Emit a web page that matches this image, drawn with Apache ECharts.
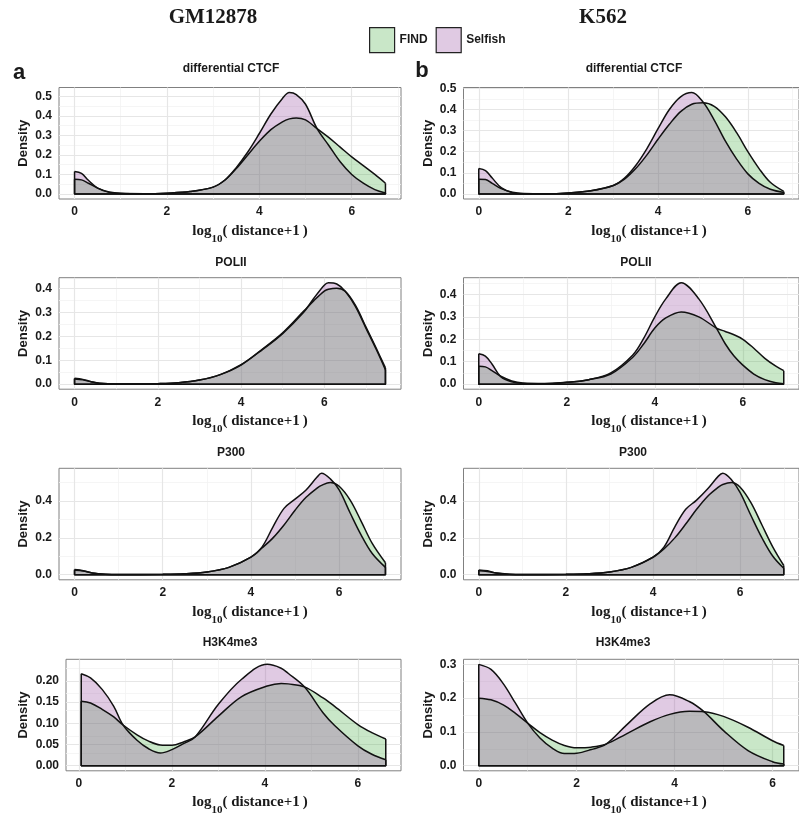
<!DOCTYPE html>
<html>
<head>
<meta charset="utf-8">
<title>Distance density: FIND vs Selfish</title>
<script src="https://cdn.jsdelivr.net/npm/echarts@6/dist/echarts.min.js"></script>
<style>
  html, body { margin: 0; padding: 0; background: #ffffff; }
  #chart { width: 799px; height: 813px; }
</style>
</head>
<body>
<div id="chart"></div>
<script>
// ---------------- data: density of log10(distance+1) ----------------
const methods = ['FIND', 'Selfish'];
const cellLines = ['GM12878', 'K562'];
const marks = ['differential CTCF', 'POLII', 'P300', 'H3K4me3'];

// GM12878 / differential CTCF
const ctcfGmX       = [0, 0.15, 0.3, 0.5, 0.75, 1, 1.5, 2, 2.5, 3, 3.25, 3.5, 3.75, 4, 4.25, 4.5, 4.65, 4.8, 5, 5.25, 5.5, 5.75, 6, 6.25, 6.5, 6.73];
const ctcfGmFind    = [0.075, 0.072, 0.055, 0.03, 0.01, 0.003, 0.001, 0.004, 0.012, 0.035, 0.07, 0.13, 0.2, 0.27, 0.33, 0.37, 0.385, 0.39, 0.38, 0.335, 0.29, 0.24, 0.19, 0.145, 0.1, 0.055];
const ctcfGmSelfish = [0.115, 0.105, 0.07, 0.03, 0.008, 0.002, 0.001, 0.004, 0.012, 0.035, 0.07, 0.135, 0.215, 0.31, 0.41, 0.49, 0.52, 0.51, 0.46, 0.335, 0.25, 0.165, 0.1, 0.055, 0.022, 0.005];

// K562 / differential CTCF
const ctcfKX        = [0, 0.15, 0.3, 0.5, 0.75, 1, 1.5, 2, 2.5, 3, 3.25, 3.5, 3.75, 4, 4.25, 4.5, 4.75, 5, 5.25, 5.5, 5.75, 6, 6.25, 6.5, 6.8];
const ctcfKFind     = [0.07, 0.068, 0.05, 0.025, 0.008, 0.002, 0.001, 0.005, 0.015, 0.04, 0.07, 0.12, 0.185, 0.26, 0.33, 0.39, 0.425, 0.432, 0.415, 0.365, 0.29, 0.2, 0.12, 0.055, 0.012];
const ctcfKSelfish  = [0.12, 0.11, 0.075, 0.03, 0.006, 0.001, 0.001, 0.005, 0.015, 0.04, 0.075, 0.135, 0.215, 0.31, 0.4, 0.46, 0.48, 0.435, 0.35, 0.25, 0.165, 0.095, 0.05, 0.022, 0.007];

// GM12878 / POLII
const polGmX        = [0, 0.2, 0.4, 0.6, 1, 1.5, 2, 2.5, 3, 3.5, 4, 4.5, 5, 5.5, 5.75, 6, 6.1, 6.3, 6.5, 6.75, 7, 7.25, 7.47];
const polGmFind     = [0.022, 0.018, 0.01, 0.004, 0.001, 0.001, 0.002, 0.006, 0.017, 0.04, 0.08, 0.145, 0.215, 0.305, 0.35, 0.39, 0.398, 0.402, 0.39, 0.33, 0.24, 0.15, 0.068];
const polGmSelfish  = [0.025, 0.02, 0.01, 0.004, 0.001, 0.001, 0.002, 0.006, 0.017, 0.04, 0.082, 0.143, 0.212, 0.3, 0.36, 0.415, 0.425, 0.42, 0.39, 0.325, 0.235, 0.145, 0.06];

// K562 / POLII
const polKX         = [0, 0.15, 0.3, 0.5, 0.75, 1, 1.5, 2, 2.5, 3, 3.5, 3.75, 4, 4.25, 4.6, 5, 5.4, 5.6, 5.8, 6, 6.25, 6.5, 6.75, 6.93];
const polKFind      = [0.08, 0.077, 0.06, 0.035, 0.014, 0.005, 0.003, 0.008, 0.02, 0.045, 0.12, 0.18, 0.25, 0.295, 0.322, 0.3, 0.25, 0.235, 0.22, 0.2, 0.16, 0.115, 0.08, 0.06];
const polKSelfish   = [0.135, 0.125, 0.09, 0.033, 0.01, 0.003, 0.001, 0.008, 0.02, 0.05, 0.13, 0.205, 0.3, 0.38, 0.452, 0.38, 0.25, 0.18, 0.125, 0.085, 0.045, 0.02, 0.006, 0.002];

// GM12878 / P300
const p300GmX       = [0, 0.2, 0.4, 0.7, 1, 2, 2.5, 3, 3.5, 4, 4.25, 4.5, 4.75, 5, 5.25, 5.5, 5.6, 5.8, 6, 6.25, 6.5, 6.75, 7.05];
const p300GmFind    = [0.024, 0.02, 0.01, 0.003, 0.001, 0.002, 0.005, 0.015, 0.04, 0.095, 0.145, 0.2, 0.27, 0.35, 0.42, 0.47, 0.485, 0.5, 0.48, 0.405, 0.29, 0.17, 0.065];
const p300GmSelfish = [0.028, 0.022, 0.01, 0.003, 0.001, 0.002, 0.005, 0.015, 0.04, 0.095, 0.15, 0.26, 0.36, 0.41, 0.46, 0.53, 0.55, 0.52, 0.46, 0.335, 0.215, 0.115, 0.04];

// K562 / P300
const p300KX        = [0, 0.2, 0.4, 0.7, 1, 2, 2.5, 3, 3.5, 4, 4.25, 4.5, 4.75, 5, 5.25, 5.5, 5.6, 5.8, 6, 6.25, 6.5, 6.75, 7];
const p300KFind     = [0.022, 0.018, 0.009, 0.003, 0.001, 0.002, 0.005, 0.015, 0.04, 0.095, 0.14, 0.2, 0.275, 0.355, 0.425, 0.475, 0.49, 0.5, 0.475, 0.39, 0.27, 0.15, 0.05];
const p300KSelfish  = [0.026, 0.021, 0.01, 0.003, 0.001, 0.002, 0.005, 0.015, 0.04, 0.095, 0.15, 0.26, 0.355, 0.405, 0.465, 0.535, 0.55, 0.515, 0.445, 0.32, 0.2, 0.1, 0.035];

// GM12878 / H3K4me3
const h3GmX         = [0.05, 0.25, 0.5, 0.75, 0.95, 1.25, 1.5, 1.75, 2, 2.25, 2.5, 3, 3.5, 4.05, 4.35, 4.5, 4.85, 5.25, 5.5, 6, 6.3, 6.6];
const h3GmFind      = [0.152, 0.148, 0.133, 0.115, 0.096, 0.073, 0.058, 0.049, 0.048, 0.056, 0.068, 0.117, 0.163, 0.188, 0.194, 0.193, 0.186, 0.16, 0.14, 0.097, 0.078, 0.063];
const h3GmSelfish   = [0.217, 0.207, 0.18, 0.14, 0.096, 0.06, 0.04, 0.03, 0.038, 0.052, 0.068, 0.145, 0.204, 0.239, 0.23, 0.218, 0.186, 0.125, 0.095, 0.047, 0.027, 0.014];

// K562 / H3K4me3
const h3KX          = [0, 0.25, 0.5, 0.75, 1, 1.25, 1.5, 1.75, 2, 2.3, 2.6, 3, 3.5, 3.9, 4.3, 4.6, 5, 5.5, 6, 6.23];
const h3KFind       = [0.2, 0.195, 0.18, 0.155, 0.126, 0.098, 0.076, 0.06, 0.053, 0.055, 0.064, 0.093, 0.13, 0.152, 0.161, 0.16, 0.146, 0.114, 0.074, 0.06];
const h3KSelfish    = [0.3, 0.285, 0.243, 0.185, 0.126, 0.082, 0.052, 0.036, 0.037, 0.048, 0.064, 0.118, 0.183, 0.21, 0.19, 0.16, 0.104, 0.045, 0.012, 0.005];

// tick labels
const xTicks       = [0, 2, 4, 6];
const xMinorTicks  = [1, 3, 5, 7];
const yTicksCtcf   = [0, 0.1, 0.2, 0.3, 0.4, 0.5];
const yTicksPol    = [0, 0.1, 0.2, 0.3, 0.4];
const yTicksP300   = [0, 0.2, 0.4];
const yTicksH3Gm   = [0, 0.05, 0.1, 0.15, 0.2];
const yTicksH3K    = [0, 0.1, 0.2, 0.3];

// ---------------- panels (row-major: GM12878 left, K562 right) ----------------
const panels = [
  { title: marks[0], x: ctcfGmX, find: ctcfGmFind, selfish: ctcfGmSelfish, yTicks: yTicksCtcf, digits: 1 },
  { title: marks[0], x: ctcfKX,  find: ctcfKFind,  selfish: ctcfKSelfish,  yTicks: yTicksCtcf, digits: 1 },
  { title: marks[1], x: polGmX,  find: polGmFind,  selfish: polGmSelfish,  yTicks: yTicksPol,  digits: 1 },
  { title: marks[1], x: polKX,   find: polKFind,   selfish: polKSelfish,   yTicks: yTicksPol,  digits: 1 },
  { title: marks[2], x: p300GmX, find: p300GmFind, selfish: p300GmSelfish, yTicks: yTicksP300, digits: 1 },
  { title: marks[2], x: p300KX,  find: p300KFind,  selfish: p300KSelfish,  yTicks: yTicksP300, digits: 1 },
  { title: marks[3], x: h3GmX,   find: h3GmFind,   selfish: h3GmSelfish,   yTicks: yTicksH3Gm, digits: 2 },
  { title: marks[3], x: h3KX,    find: h3KFind,    selfish: h3KSelfish,    yTicks: yTicksH3K,  digits: 1 }
];

// ---------------- layout ----------------
const rowTop = [87.5, 277.7, 468.3, 659.3];
const rowStep = 190.5;
const panelH = 111.5;
const panelLeft = [59, 463.5, 59, 463.5, 59, 463.5, 66, 463.5];
const colRight = [401, 806];           // right-hand panels run off the page edge
const titleX = [231, 634, 231, 636, 231, 633, 230, 623];
const titleY = [69, 263, 453, 643];
const xTitleX = [250, 649];
const densityLabelX = [23, 428];

const SANS = '"Liberation Sans", Arial, Helvetica, sans-serif';
const SERIF = '"Liberation Serif", "Times New Roman", serif';
const TEXT = '#1a1a1a';
const FIND_FILL = 'rgba(77,175,74,0.3)';
const SELFISH_FILL = 'rgba(152,78,163,0.3)';
const OUTLINE = '#111111';
const OUTLINE_W = 1.5;

const MAIN_FONT = 'bold 15px ' + SERIF;
const SUB_FONT = 'bold 11px ' + SERIF;
const measureCtx = document.createElement('canvas').getContext('2d');
function textWidth(str, font) {
  measureCtx.font = font;
  return measureCtx.measureText(str).width;
}

const grids = [], xAxes = [], yAxes = [], series = [], graphics = [];

function expand(lo, hi) {
  const r = hi - lo;
  return [lo - 0.05 * r, hi + 0.05 * r];
}

// x-axis title: log with subscript 10
function axisTitle(cx, cy) {
  const parts = [
    { t: 'log', font: MAIN_FONT, dy: 0 },
    { t: '10', font: SUB_FONT, dy: 8 },
    { t: '( distance+1\u2009)', font: MAIN_FONT, dy: 0 }
  ];
  const widths = parts.map(p => textWidth(p.t, p.font));
  let x = cx - widths.reduce((a, b) => a + b, 0) / 2;
  parts.forEach((p, k) => {
    graphics.push({
      type: 'text', x: x, y: cy + p.dy,
      style: { text: p.t, font: p.font, fill: TEXT, align: 'left', verticalAlign: 'middle' }
    });
    x += widths[k];
  });
}

panels.forEach((p, i) => {
  const row = Math.floor(i / 2), col = i % 2;
  const left = panelLeft[i];
  grids.push({
    left: left, top: rowTop[row], width: colRight[col] - left, height: panelH,
    show: true, backgroundColor: '#ffffff', borderColor: '#808080', borderWidth: 1,
    containLabel: false
  });

  const x0 = p.x[0], xn = p.x[p.x.length - 1];
  const ymax = Math.max(Math.max(...p.find), Math.max(...p.selfish));
  const xr = expand(x0, xn);
  const yr = expand(0, ymax);

  const labelStyle = { fontSize: 12, fontWeight: 'bold', fontFamily: SANS, color: TEXT };
  xAxes.push({
    type: 'value', gridIndex: i, min: xr[0], max: xr[1],
    axisLine: { show: false },
    axisTick: { show: true, customValues: xTicks, length: 3, lineStyle: { color: '#333', width: 1 } },
    axisLabel: Object.assign({ customValues: xTicks, margin: 7, formatter: v => String(v) }, labelStyle),
    splitLine: { show: false }
  });
  yAxes.push({
    type: 'value', gridIndex: i, min: yr[0], max: yr[1],
    axisLine: { show: false },
    axisTick: { show: true, customValues: p.yTicks, length: 3, lineStyle: { color: '#333', width: 1 } },
    axisLabel: Object.assign({ customValues: p.yTicks, margin: 7, formatter: v => v.toFixed(p.digits) }, labelStyle),
    splitLine: { show: false }
  });

  // background grid: minor lines first, major lines over them
  const yStep = p.yTicks[1] - p.yTicks[0];
  const yMinor = [];
  for (let k = 0; k <= p.yTicks.length; k++) {
    const v = p.yTicks[0] + (k - 0.5) * yStep;
    if (v > yr[0] && v < yr[1]) yMinor.push(+v.toFixed(4));
  }
  const minorStyle = { color: '#f3f3f3', width: 0.8, type: 'solid' };
  const majorStyle = { color: '#e6e6e6', width: 1.2, type: 'solid' };
  const gridLines = []
    .concat(xMinorTicks.filter(v => v > xr[0] && v < xr[1]).map(v => ({ xAxis: v, lineStyle: minorStyle })))
    .concat(yMinor.map(v => ({ yAxis: v, lineStyle: minorStyle })))
    .concat(xTicks.filter(v => v > xr[0] && v < xr[1]).map(v => ({ xAxis: v, lineStyle: majorStyle })))
    .concat(p.yTicks.map(v => ({ yAxis: v, lineStyle: majorStyle })));
  series.push({
    type: 'line', xAxisIndex: i, yAxisIndex: i, z: 1, silent: true,
    data: [[x0, 0]], showSymbol: false, symbol: 'none',
    lineStyle: { width: 0, opacity: 0 },
    markLine: { z: 1, silent: true, symbol: ['none', 'none'], label: { show: false }, animation: false, data: gridLines }
  });

  // density curves
  const curves = [
    { name: methods[0], ys: p.find, fill: FIND_FILL },
    { name: methods[1], ys: p.selfish, fill: SELFISH_FILL }
  ];
  curves.forEach(c => {
    series.push({
      name: c.name, type: 'line', xAxisIndex: i, yAxisIndex: i, z: 10,
      data: p.x.map((xv, k) => [xv, c.ys[k]]),
      smooth: 0.35, symbol: 'none', showSymbol: false,
      itemStyle: { color: c.fill },
      lineStyle: { color: OUTLINE, width: OUTLINE_W },
      areaStyle: { color: c.fill, opacity: 1 },
      emphasis: { disabled: true }
    });
  });
  // closing edges of each density polygon (ends and baseline)
  curves.forEach(c => {
    const yn = c.ys[c.ys.length - 1];
    series.push({
      type: 'line', xAxisIndex: i, yAxisIndex: i, z: 11, silent: true,
      data: [[x0, c.ys[0]], [x0, 0], [xn, 0], [xn, yn]],
      symbol: 'none', showSymbol: false,
      lineStyle: { color: OUTLINE, width: OUTLINE_W },
      emphasis: { disabled: true }
    });
  });

  // panel title
  graphics.push({
    type: 'text', x: titleX[i], y: titleY[row],
    style: { text: p.title, fill: TEXT, font: 'bold 12px ' + SANS, align: 'center', verticalAlign: 'middle' }
  });
  // y title
  graphics.push({
    type: 'text', x: densityLabelX[col], y: rowTop[row] + panelH / 2, rotation: Math.PI / 2,
    style: { text: 'Density', fill: TEXT, font: 'bold 13px ' + SANS, align: 'center', verticalAlign: 'middle' }
  });
  // x title
  axisTitle(xTitleX[col], 231 + row * rowStep);
});

// column headers and panel letters
graphics.push(
  { type: 'text', x: 213, y: 18, style: { text: cellLines[0], fill: TEXT, font: 'bold 21px ' + SERIF, align: 'center', verticalAlign: 'middle' } },
  { type: 'text', x: 603, y: 18, style: { text: cellLines[1], fill: TEXT, font: 'bold 21px ' + SERIF, align: 'center', verticalAlign: 'middle' } },
  { type: 'text', x: 19, y: 73, style: { text: 'a', fill: TEXT, font: 'bold 22px ' + SANS, align: 'center', verticalAlign: 'middle' } },
  { type: 'text', x: 422, y: 71, style: { text: 'b', fill: TEXT, font: 'bold 22px ' + SANS, align: 'center', verticalAlign: 'middle' } }
);

const chart = echarts.init(document.getElementById('chart'), null, { renderer: 'canvas' });
chart.setOption({
  animation: false,
  backgroundColor: '#ffffff',
  legend: {
    left: 364, top: 22, itemWidth: 25, itemHeight: 25, itemGap: 8, icon: 'rect',
    selectedMode: false,
    textStyle: { fontSize: 12, fontWeight: 'bold', fontFamily: SANS, color: TEXT },
    data: [
      { name: methods[0], itemStyle: { color: FIND_FILL, borderColor: '#222', borderWidth: 1.2 } },
      { name: methods[1], itemStyle: { color: SELFISH_FILL, borderColor: '#222', borderWidth: 1.2 } }
    ]
  },
  grid: grids,
  xAxis: xAxes,
  yAxis: yAxes,
  series: series,
  graphic: graphics
});
</script>
</body>
</html>
